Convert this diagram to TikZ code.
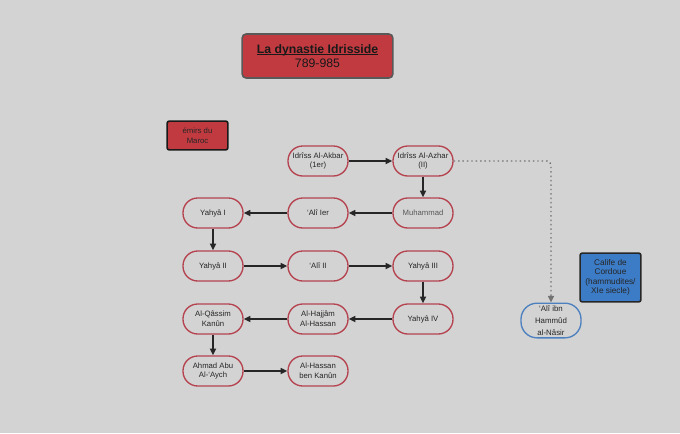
\documentclass[tikz,border=0pt]{standalone}
\usepackage{fontspec}
\setmainfont{Liberation Sans}
\usetikzlibrary{arrows.meta}
\definecolor{bg}{HTML}{D3D3D3}
\definecolor{nodeborder}{HTML}{B5434F}
\definecolor{titlered}{HTML}{C13A40}
\definecolor{califblue}{HTML}{3C7BC6}
\definecolor{ibnblue}{HTML}{4C80BE}
\definecolor{txt}{HTML}{262626}
\newcommand{\ulbold}[1]{\setbox0\hbox{\textbf{#1}}\rlap{\rule[-1.2pt]{\wd0}{0.8pt}}\box0}
\tikzset{
  person/.style={draw=nodeborder, line width=1pt, rounded corners=11pt,
    minimum width=45pt, minimum height=22.5pt, align=center,
    font=\fontsize{5.8pt}{7.2pt}\selectfont, text=txt, inner sep=1pt},
  link/.style={-{Triangle[length=5pt,width=4.5pt]}, line width=1.2pt, draw=black!85},
  dotlink/.style={-{Triangle[length=5pt,width=4.5pt]}, line width=1.1pt, draw=black!55,
    dash pattern=on 1.1pt off 2.2pt, rounded corners=3pt}
}
\begin{document}
\begin{tikzpicture}[x=0.75pt,y=-0.75pt]
\fill[bg] (0,0) rectangle (680,433);
\useasboundingbox (0,0) rectangle (680,433);

\node[draw=black!65, line width=1.2pt, fill=titlered, rounded corners=3pt,
  minimum width=113pt, minimum height=33pt, align=center, text=black!90,
  font=\fontsize{9.2pt}{11pt}\selectfont] (title) at (317.5,56)
  {\ulbold{La dynastie Idrisside}\\789-985};

\node[draw=black!90, line width=1.2pt, fill=titlered, rounded corners=1.5pt,
  minimum width=45.5pt, minimum height=21.5pt, align=center, text=txt,
  font=\fontsize{5.8pt}{7.2pt}\selectfont] (emirs) at (197.5,135.5)
  {émirs du\\Maroc};

\node[draw=black!85, line width=1.2pt, fill=califblue, rounded corners=1.5pt,
  minimum width=45.5pt, minimum height=36.5pt, align=center, text=black!85,
  font=\fontsize{6.2pt}{7.1pt}\selectfont, inner sep=1pt] (calif) at (610.5,277.5)
  {Calife de\\Cordoue\\(hammudites/\\XIe siecle)};

\node[person] (akbar) at (318,161) {Idrîss Al-Akbar\\(1er)};
\node[person] (azhar) at (423,161) {Idrîss Al-Azhar\\(II)};

\node[person] (yahya1) at (213,213) {Yahyâ I};
\node[person] (ali1) at (318,213) {‘Alî Ier};
\node[person, text=black!65] (muhammad) at (423,213) {Muhammad};

\node[person] (yahya2) at (213,266) {Yahyâ II};
\node[person] (ali2) at (318,266) {‘Alî II};
\node[person] (yahya3) at (423,266) {Yahyâ III};

\node[person] (qassim) at (213,319) {Al-Qâssim\\Kanûn};
\node[person] (hajjam) at (318,319) {Al-Hajjâm\\Al-Hassan};
\node[person] (yahya4) at (423,319) {Yahyâ IV};

\node[person] (ahmad) at (213,371) {Ahmad Abu\\Al-‘Aych};
\node[person] (hassan) at (318,371) {Al-Hassan\\ben Kanûn};

\node[person, draw=ibnblue, minimum height=26pt, rounded corners=12pt, inner sep=0.5pt,
  font=\fontsize{5.9pt}{8.8pt}\selectfont] (ibn) at (551,320.5)
  {‘Alî ibn\\Hammûd\\al-Nâsir};

\draw[link] (akbar) -- (azhar);
\draw[link] (azhar) -- (muhammad);
\draw[link] (muhammad) -- (ali1);
\draw[link] (ali1) -- (yahya1);
\draw[link] (yahya1) -- (yahya2);
\draw[link] (yahya2) -- (ali2);
\draw[link] (ali2) -- (yahya3);
\draw[link] (yahya3) -- (yahya4);
\draw[link] (yahya4) -- (hajjam);
\draw[link] (hajjam) -- (qassim);
\draw[link] (qassim) -- (ahmad);
\draw[link] (ahmad) -- (hassan);
\draw[dotlink] (azhar.east) -| (ibn.north);
\end{tikzpicture}
\end{document}
